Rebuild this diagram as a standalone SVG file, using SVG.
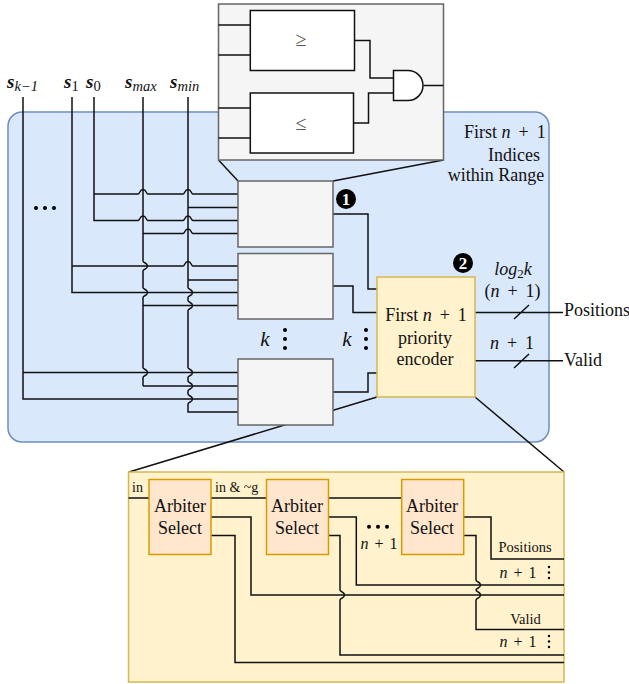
<svg xmlns="http://www.w3.org/2000/svg" width="629" height="684" viewBox="0 0 629 684">
<defs>
<style>
text{font-family:"Liberation Serif","Times New Roman",serif;fill:#111}
.w{fill:none;stroke:#111;stroke-width:1.5}
.g{fill:#f5f5f5;stroke:#666;stroke-width:1.5}
.y{fill:#fff2cc;stroke:#d6b656;stroke-width:1.5}
.a{fill:#ffe6cc;stroke:#d79b00;stroke-width:1.5}
.c{fill:#fff;stroke:#111;stroke-width:1.5}
.t18{font-size:18px}
.t14{font-size:14.500px}
.t13{font-size:14px}
.m{text-anchor:middle}
.sig{font-size:19px;font-weight:bold;font-style:italic}
.sub{font-size:14.500px;font-weight:normal}
.i{font-style:italic}
.ws{word-spacing:3.500px}
.n1{font-size:16px;word-spacing:2px;text-anchor:middle}
.d{fill:#000}
.bt{fill:#fff;font-size:17px;font-weight:bold;text-anchor:middle}
.cmp{font-size:20px;text-anchor:middle;fill:#555}
.kk{font-size:21px;font-style:italic;text-anchor:middle}
</style>
</defs>
<g id="range-block"><rect x="8" y="112" width="541" height="330" rx="14" fill="#dae8fc" stroke="#6c8ebf" stroke-width="1.5"/>
<text class="t18" x="464" y="138">First <tspan class="i">n</tspan><tspan class="ws"> + 1</tspan></text>
<text class="t18 m" x="514" y="161">Indices</text>
<text class="t18 m" x="496" y="181">within Range</text></g>
<g id="zoom-lines">
<path class="w" d="M218.500 160L238 181M443.500 160L333 181M377 397L129 472M475 397L564 472"/>
</g>
<g id="signals">
<text class="sig" x="7" y="88">s<tspan class="sub" dy="3">k−1</tspan></text>
<text class="sig" x="64" y="88">s<tspan class="sub" dy="3" font-style="normal">1</tspan></text>
<text class="sig" x="86" y="88">s<tspan class="sub" dy="3" font-style="normal">0</tspan></text>
<text class="sig" x="125" y="88">s<tspan class="sub" dy="3">max</tspan></text>
<text class="sig" x="170" y="88">s<tspan class="sub" dy="3">min</tspan></text>
</g>
<g id="connectors">
<path class="w" d="M23 97V399H238M23 372.500H238"/>
<path class="w" d="M72 97V292.500H238M72 266H183c2 0 1.500-4.500 5-4.500c3.500 0 3 4.500 5 4.500H238"/>
<path class="w" d="M94 97V220.500H138c2 0 1.500-4.500 5-4.500c3.500 0 3 4.500 5 4.500H183c2 0 1.500-4.500 5-4.500c3.500 0 3 4.500 5 4.500H238"/>
<path class="w" d="M94 194H138c2 0 1.500-4.500 5-4.500c3.500 0 3 4.500 5 4.500H183c2 0 1.500-4.500 5-4.500c3.500 0 3 4.500 5 4.500H238"/>
<path class="w" d="M143 233.500H183c2 0 1.500-4.500 5-4.500c3.500 0 3 4.500 5 4.500H238"/>
<path class="w" d="M188 207.500H238M188 280H238M143 305.500H238"/>
<path class="w" d="M143 386H238"/>
<path class="w" d="M143 97V261c0 2 4.500 1.500 4.500 5c0 3.500-4.500 3-4.500 5V287.500c0 2 4.500 1.500 4.500 5c0 3.500-4.500 3-4.500 5V367.500c0 2 4.500 1.500 4.500 5c0 3.500-4.500 3-4.500 5V386"/>
<path class="w" d="M188 97V287.500c0 2 4.500 1.500 4.500 5c0 3.500-4.500 3-4.500 5V300.500c0 2 4.500 1.500 4.500 5c0 3.500-4.500 3-4.500 5V367.500c0 2 4.500 1.500 4.500 5c0 3.500-4.500 3-4.500 5V381c0 2 4.500 1.500 4.500 5c0 3.500-4.500 3-4.500 5V394c0 2 4.500 1.500 4.500 5c0 3.500-4.500 3-4.500 5V412H238"/>
<path class="w" d="M333 214H368V289H377M333 286H353V312.500H377M333 392H368V373H377"/>
<path class="w" d="M475 312.500H563M475 360.700H563M514 319L529 305M514 368L529 354"/>
</g>
<g id="dots">
<circle class="d" cx="36" cy="208" r="2"/><circle class="d" cx="45" cy="208" r="2"/><circle class="d" cx="54" cy="208" r="2"/>
<circle class="d" cx="285" cy="330" r="2"/><circle class="d" cx="285" cy="339" r="2"/><circle class="d" cx="285" cy="348" r="2"/>
<circle class="d" cx="366" cy="330" r="2"/><circle class="d" cx="366" cy="339" r="2"/><circle class="d" cx="366" cy="348" r="2"/>
<text class="kk" x="265" y="346">k</text>
<text class="kk" x="347" y="346">k</text>
</g>
<g id="comparator-detail">
<rect class="g" x="218.500" y="4" width="225" height="156"/>
<path class="w" d="M218.500 25H250M218.500 55H250M218.500 108H250M218.500 138H250M354.500 40.500H370V78H393.500M353.500 123H368.500V93H393.500M423.500 85.500H443.500"/>
<rect class="c" x="250.300" y="10.500" width="104.200" height="60"/>
<rect class="c" x="250.300" y="93" width="103.200" height="60"/>
<text class="cmp" x="301" y="46">≥</text>
<text class="cmp" x="301" y="130">≤</text>
<path class="c" d="M393.500 70.500H408A15 15 0 0 1 408 100.500H393.500Z"/>
</g>
<g id="range-check-1"><rect class="g" x="238" y="181" width="95" height="66"/></g>
<g id="range-check-2"><rect class="g" x="238" y="253.500" width="95" height="65.500"/></g>
<g id="range-check-k"><rect class="g" x="238" y="359" width="95" height="66"/></g>
<g id="badge-1"><circle cx="346" cy="199" r="10" fill="#000"/><text class="bt" x="346" y="205">1</text></g>
<g id="badge-2"><circle cx="463" cy="263" r="10" fill="#000"/><text class="bt" x="463" y="269">2</text></g>
<g id="priority-encoder"><rect class="y" x="377" y="277" width="98" height="120"/>
<text class="t18 m" x="426" y="321">First <tspan class="i">n</tspan><tspan class="ws"> + 1</tspan></text>
<text class="t18 m" x="425" y="344">priority</text>
<text class="t18 m" x="425" y="365">encoder</text></g>
<g id="output-labels">
<text class="t18 m" x="513" y="275"><tspan class="i">log</tspan><tspan style="font-size:13px" dy="3">2</tspan><tspan class="i" dy="-3">k</tspan></text>
<text class="t18 m ws" x="512.500" y="297">(<tspan class="i">n</tspan> + 1)</text>
<text class="t18 m ws" x="512" y="349"><tspan class="i">n</tspan> + 1</text>
<text class="t18" x="564" y="316">Positions</text>
<text class="t18" x="564" y="366">Valid</text>
</g>
<g id="encoder-detail">
<rect class="y" x="128.500" y="472" width="435.500" height="210"/>
<path class="w" d="M128.500 498H149M211 498H266.500M328.500 498H401.700"/>
<path class="w" d="M211 517H251V595H564"/>
<path class="w" d="M211 535.500H235V662.500H564M328.500 517H356.300V585H564M463.700 517H491V559H564"/>
<path class="w" d="M328.500 535.500H340V590c0 2 4.500 1.500 4.500 5c0 3.500-4.500 3-4.500 5V655H564"/>
<path class="w" d="M463.700 535.500H476V580c0 2 4.500 1.500 4.500 5c0 3.500-4.500 3-4.500 5c0 2 4.500 1.500 4.500 5c0 3.500-4.500 3-4.500 5V629.500H564"/>
<text class="t13" x="132" y="492">in</text>
<text class="t13" x="215" y="492">in &amp; ~g</text>
<circle class="d" cx="369" cy="526.700" r="2"/><circle class="d" cx="378" cy="526.700" r="2"/><circle class="d" cx="387" cy="526.700" r="2"/>
<text class="n1" x="379" y="549"><tspan class="i">n</tspan> + 1</text>
<text class="t14 m" x="525" y="552">Positions</text>
<text class="t14 m" x="525.500" y="624">Valid</text>
<text class="n1" x="518" y="578"><tspan class="i">n</tspan> + 1</text>
<text class="n1" x="518" y="647"><tspan class="i">n</tspan> + 1</text>
<circle class="d" cx="549" cy="567" r="1.200"/><circle class="d" cx="549" cy="572.500" r="1.200"/><circle class="d" cx="549" cy="578" r="1.200"/>
<circle class="d" cx="549" cy="636" r="1.200"/><circle class="d" cx="549" cy="641.500" r="1.200"/><circle class="d" cx="549" cy="647" r="1.200"/>
</g>
<g id="arbiter-1"><rect class="a" x="149" y="479.500" width="62" height="75"/><text class="t18 m" x="180" y="512">Arbiter</text><text class="t18 m" x="180" y="534">Select</text></g>
<g id="arbiter-2"><rect class="a" x="266.500" y="479.500" width="62" height="75"/><text class="t18 m" x="297" y="512">Arbiter</text><text class="t18 m" x="297" y="534">Select</text></g>
<g id="arbiter-3"><rect class="a" x="401.700" y="479.500" width="62" height="75"/><text class="t18 m" x="432" y="512">Arbiter</text><text class="t18 m" x="432" y="534">Select</text></g>
</svg>
